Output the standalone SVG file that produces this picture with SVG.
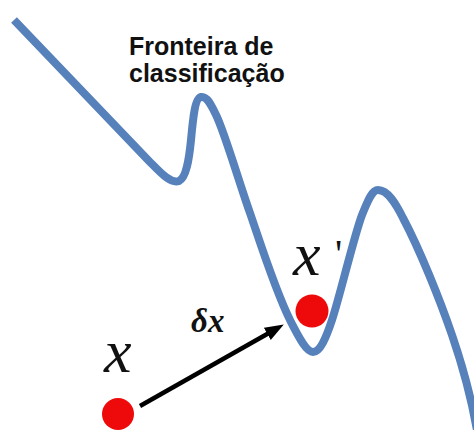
<svg xmlns="http://www.w3.org/2000/svg" width="474" height="430" viewBox="0 0 474 430">
  <style>
    .curve { fill: none; stroke: #5681bb; stroke-width: 8; stroke-linejoin: round; }
    .dot { fill: #ee0a0a; }
    .title { font-family: "Liberation Sans", Arial, sans-serif; font-weight: bold; font-size: 25px; fill: #111; }
    .var { font-family: "Liberation Serif", "Times New Roman", serif; font-style: italic; fill: #111; }
    .arrow { stroke: #000; stroke-width: 4.5; fill: none; }
  </style>
  <defs>
    <marker id="head" markerUnits="userSpaceOnUse" markerWidth="20" markerHeight="16" refX="10" refY="7" orient="auto">
      <path d="M0,0 L19,7 L0,14 z" fill="#000"/>
    </marker>
  </defs>
  <rect width="474" height="430" fill="#fff"/>

  <g id="boundary">
    <path class="curve" d="M14,20 L148,160 C160,172 170,184 179,181 C186,178 189,160 191,140 C193,118 195,98 201,97 C207,96 211,104 217,117 C226,137 240,185 250,213 C258,236 275,290 290,320 C300,340 307,352 313,352 C320,352 326,338 332,320 C340,296 354,236 362,215 C368,200 372,190 378,190 C388,190 396,204 403,218 C420,250 440,300 452,335 C464,370 472,400 478,436"/>
    <text class="title" x="129" y="55">Fronteira de</text>
    <text class="title" x="129" y="82">classificação</text>
  </g>

  <g id="connectors">
    <line class="arrow" x1="140" y1="406" x2="276" y2="329" marker-end="url(#head)"/>
    <text class="var" x="191" y="332" font-size="33" font-weight="bold">δx</text>
  </g>

  <g id="point-x">
    <circle class="dot" cx="118" cy="414" r="16"/>
    <text class="var" x="104" y="372" font-size="62">x</text>
  </g>

  <g id="point-x-prime">
    <circle class="dot" cx="312" cy="311" r="16.5"/>
    <text class="var" x="293" y="275" font-size="62">x<tspan x="335" y="267" font-style="normal" font-size="40">'</tspan></text>
  </g>
</svg>
